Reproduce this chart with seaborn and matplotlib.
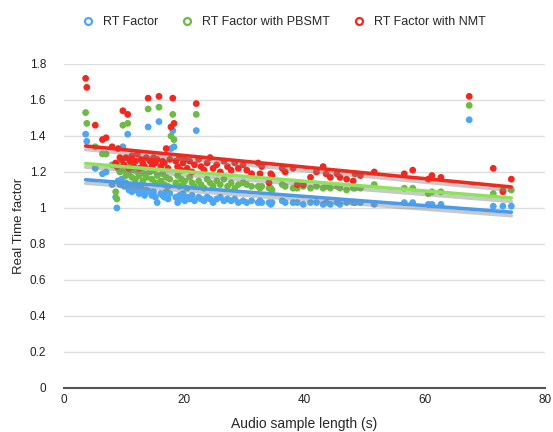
import numpy as np
import pandas as pd
import seaborn as sns
import matplotlib.pyplot as plt
import matplotlib.patheffects as pe
from matplotlib.lines import Line2D

# audio sample length (s)
length = [3.6, 3.8, 5.2, 6.4, 7.0, 8.0, 8.6, 8.8, 9.0, 9.3,
          9.6, 9.8, 10.0, 10.3, 10.6, 10.8, 11.0, 11.3, 11.6, 11.9,
          12.2, 12.5, 12.8, 13.1, 13.4, 13.7, 14.0, 14.3, 14.6, 14.9,
          15.2, 15.5, 15.8, 16.1, 16.4, 16.7, 17.0, 17.3, 17.6, 17.8,
          18.1, 18.3, 18.6, 18.9, 19.2, 19.5, 19.8, 20.1, 20.5, 20.9,
          21.3, 21.7, 22.0, 22.4, 22.8, 23.3, 23.8, 24.3, 24.8, 25.4,
          26.0, 26.6, 27.2, 27.8, 28.4, 29.0, 29.8, 30.4, 31.2, 32.3,
          32.6, 32.9, 34.1, 34.4, 34.6, 36.3, 36.8, 38.1, 38.8, 39.8,
          41.0, 42.0, 43.1, 43.6, 44.3, 45.4, 45.9, 47.0, 48.1, 48.4,
          49.3, 51.6, 56.6, 58.0, 60.6, 61.2, 62.7, 67.4, 71.4, 73.0,
          74.4]

rt = [1.41, 1.37, 1.22, 1.19, 1.20, 1.13, 1.06, 1.00, 1.15, 1.13,
      1.16, 1.34, 1.12, 1.14, 1.41, 1.10, 1.12, 1.09, 1.13, 1.10,
      1.11, 1.08, 1.12, 1.09, 1.07, 1.10, 1.45, 1.09, 1.07, 1.09,
      1.06, 1.03, 1.48, 1.08, 1.07, 1.06, 1.09, 1.05, 1.08, 1.33,
      1.43, 1.34, 1.06, 1.03, 1.07, 1.05, 1.08, 1.04, 1.06, 1.05,
      1.07, 1.04, 1.43, 1.06, 1.05, 1.04, 1.06, 1.05, 1.03, 1.05,
      1.06, 1.04, 1.05, 1.04, 1.05, 1.03, 1.04, 1.03, 1.04, 1.03,
      1.04, 1.03, 1.03, 1.02, 1.03, 1.04, 1.03, 1.03, 1.03, 1.02,
      1.03, 1.03, 1.02, 1.03, 1.02, 1.03, 1.02, 1.03, 1.03, 1.03,
      1.03, 1.02, 1.03, 1.03, 1.02, 1.02, 1.02, 1.49, 1.01, 1.01,
      1.01]

rt_pbsmt = [1.53, 1.47, 1.34, 1.30, 1.30, 1.24, 1.09, 1.05, 1.22, 1.20,
            1.25, 1.46, 1.21, 1.18, 1.47, 1.19, 1.23, 1.17, 1.21, 1.16,
            1.20, 1.18, 1.22, 1.15, 1.19, 1.17, 1.55, 1.20, 1.16, 1.21,
            1.14, 1.18, 1.56, 1.15, 1.19, 1.13, 1.17, 1.12, 1.16, 1.40,
            1.52, 1.38, 1.14, 1.18, 1.12, 1.16, 1.13, 1.15, 1.11, 1.17,
            1.14, 1.12, 1.52, 1.15, 1.13, 1.11, 1.16, 1.14, 1.12, 1.15,
            1.13, 1.16, 1.12, 1.14, 1.11, 1.13, 1.14, 1.13, 1.12, 1.12,
            1.11, 1.12, 1.11, 1.11, 1.10, 1.13, 1.12, 1.11, 1.11, 1.12,
            1.11, 1.12, 1.11, 1.12, 1.11, 1.12, 1.11, 1.10, 1.11, 1.11,
            1.11, 1.13, 1.11, 1.11, 1.08, 1.09, 1.09, 1.57, 1.08, 1.10,
            1.10]

rt_nmt = [1.72, 1.67, 1.46, 1.38, 1.39, 1.34, 1.25, 1.23, 1.33, 1.28,
          1.27, 1.54, 1.24, 1.28, 1.52, 1.22, 1.26, 1.29, 1.23, 1.26,
          1.30, 1.22, 1.27, 1.25, 1.23, 1.28, 1.61, 1.26, 1.23, 1.28,
          1.25, 1.27, 1.62, 1.23, 1.26, 1.25, 1.33, 1.22, 1.27, 1.45,
          1.61, 1.47, 1.26, 1.23, 1.28, 1.21, 1.25, 1.27, 1.22, 1.26,
          1.20, 1.24, 1.58, 1.27, 1.23, 1.21, 1.25, 1.28, 1.22, 1.24,
          1.20, 1.26, 1.23, 1.21, 1.25, 1.22, 1.24, 1.21, 1.19, 1.25,
          1.19, 1.23, 1.14, 1.19, 1.18, 1.22, 1.20, 1.22, 1.13, 1.13,
          1.17, 1.20, 1.23, 1.19, 1.17, 1.19, 1.17, 1.16, 1.15, 1.19,
          1.18, 1.20, 1.19, 1.21, 1.16, 1.18, 1.17, 1.62, 1.22, 1.09,
          1.16]

series = ["RT Factor", "RT Factor with PBSMT", "RT Factor with NMT"]
dot_colors = ["#4DA6F5", "#6DBB43", "#F2271D"]
fit_colors = ["#4B9BEA", "#8FE25C", "#F0291F"]

df = pd.DataFrame({"length": length, series[0]: rt,
                   series[1]: rt_pbsmt, series[2]: rt_nmt})
long = df.melt(id_vars="length", var_name="series", value_name="factor")

sns.set_style("white")
plt.rcParams["font.family"] = ["Liberation Sans", "DejaVu Sans"]

fig = plt.figure(figsize=(5.53, 4.32), dpi=100)
ax = fig.add_axes([0.1157, 0.1019, 0.8698, 0.75])

sns.scatterplot(data=long, x="length", y="factor", hue="series",
                palette=dict(zip(series, dot_colors)), s=24,
                edgecolor="none", legend=False, ax=ax, zorder=3)

shadow = [pe.SimpleLineShadow(offset=(0, -2.5), shadow_color="#888888",
                              alpha=0.45), pe.Normal()]
for name, c in zip(series, fit_colors):
    sns.regplot(data=df, x="length", y=name, scatter=False, ci=None,
                truncate=True, ax=ax,
                line_kws=dict(color=c, lw=2.6, zorder=4, path_effects=shadow))

ax.set_xlim(0, 80)
ax.set_ylim(0, 1.8)
ax.set_xticks([0, 20, 40, 60, 80])
yt = np.arange(0, 1.81, 0.2)
ax.set_yticks(yt)
ax.set_yticklabels([f"{v:g}" for v in np.round(yt, 1)])
ax.yaxis.grid(True, color="#DDDDDD", lw=1)
ax.xaxis.grid(False)
ax.tick_params(length=0, labelsize=8.5, colors="#222222")
ax.tick_params(axis="y", pad=13)
ax.tick_params(axis="x", pad=4)
for s in ["left", "right", "top"]:
    ax.spines[s].set_visible(False)
ax.spines["bottom"].set_color("#555555")
ax.spines["bottom"].set_linewidth(1.5)
ax.spines["bottom"].set_zorder(5)

ax.set_xlabel("Audio sample length (s)", fontsize=10, labelpad=8)
ax.set_ylabel("Real Time factor", fontsize=9.5, labelpad=3)

handles = [Line2D([], [], marker="o", ls="none", markerfacecolor="white",
                  markeredgecolor=c, markeredgewidth=1.6, markersize=5)
           for c in dot_colors]
fig.legend(handles, series, loc="center", bbox_to_anchor=(0.508, 0.949),
           ncol=3, frameon=False, fontsize=9, handletextpad=0.2,
           columnspacing=1.3)

fig.savefig("out.png", dpi=100)
